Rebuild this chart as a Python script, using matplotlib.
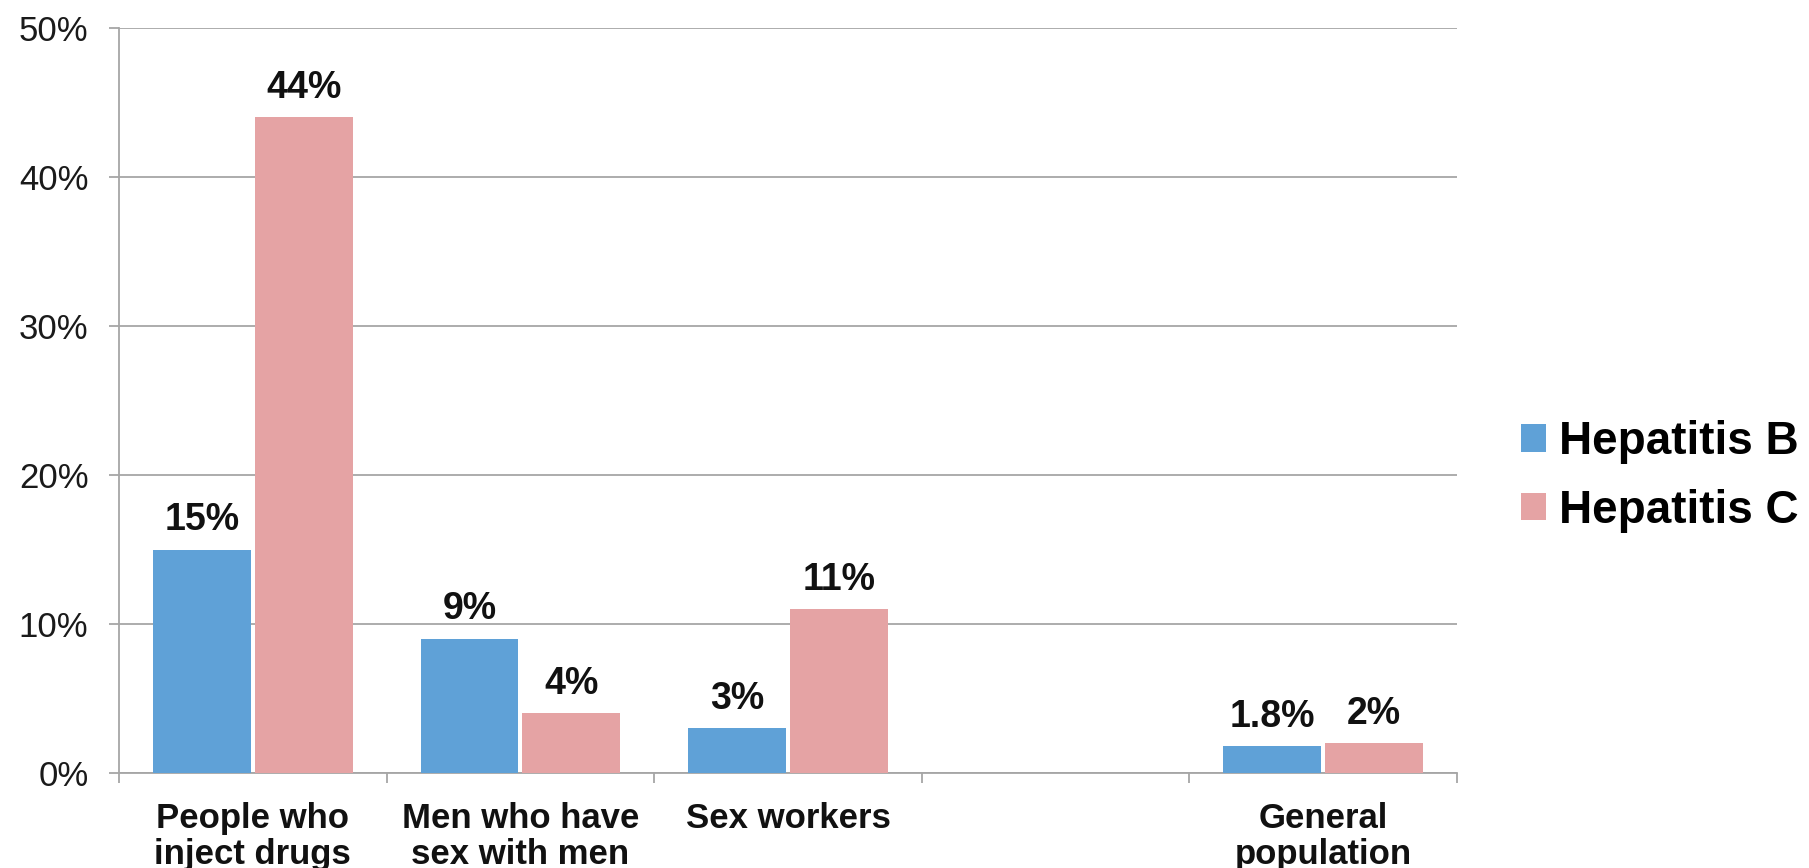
import numpy as np
import matplotlib
matplotlib.use("Agg")
import matplotlib.pyplot as plt

# Data
categories = ["People who\ninject drugs", "Men who have\nsex with men", "Sex workers", "", "General\npopulation"]
hep_b = [15, 9, 3, None, 1.8]
hep_c = [44, 4, 11, None, 2]
series_names = ["Hepatitis B", "Hepatitis C"]
colors = ["#5fa1d7", "#e5a3a4"]

plt.rcParams['font.family'] = ['Liberation Sans', 'DejaVu Sans']

fig = plt.figure(figsize=(18.09, 8.68), dpi=100)
ax = fig.add_axes([0.0658, 0.1094, 0.7396, 0.8583])

x = np.arange(len(categories))
width = 0.365
offset = 0.19

def fmt(v):
    return "{:g}%".format(v)

handles = []
for vals, off, col, name in zip([hep_b, hep_c], [-offset, offset], colors, series_names):
    xs = [xi + off for xi, v in zip(x, vals) if v is not None]
    ys = [v for v in vals if v is not None]
    bars = ax.bar(xs, ys, width=width, color=col, label=name, zorder=3)
    handles.append(bars)
    for xi, yi in zip(xs, ys):
        ax.annotate(fmt(yi), (xi, yi), xytext=(0, 14), textcoords="offset points",
                    ha="center", va="baseline", fontsize=27, fontweight="bold", color="#111111")

ax.set_xlim(-0.5, len(categories) - 0.5)
ax.set_ylim(0, 50)
ax.set_yticks(np.arange(0, 51, 10))
ax.set_yticklabels(["{}%".format(t) for t in range(0, 51, 10)], fontsize=25, color="#1a1a1a")
ax.yaxis.grid(True, color="#a6a6a6", linewidth=1.3, zorder=0)

# Category ticks at slot boundaries, labels at slot centres
ax.set_xticks(np.arange(-0.5, len(categories), 1.0))
ax.set_xticklabels([])
ax.set_xticks(x, minor=True)
ax.set_xticklabels(categories, minor=True, fontsize=25, fontweight="bold", color="#111111",
                   linespacing=1.12, va="top")
ax.tick_params(axis="x", which="minor", length=0, pad=21)
ax.tick_params(axis="x", which="major", length=7, color="#a6a6a6", width=1.3)
ax.tick_params(axis="y", length=7, color="#a6a6a6", width=1.3, pad=15)

for s in ["top", "right"]:
    ax.spines[s].set_visible(False)
for s in ["left", "bottom"]:
    ax.spines[s].set_color("#a6a6a6")
    ax.spines[s].set_linewidth(1.3)

leg = fig.legend(handles, series_names, loc="center left", bbox_to_anchor=(0.818, 0.451),
                 frameon=False, handlelength=0.55, handleheight=0.55,
                 handletextpad=0.28, labelspacing=0.53, prop={"weight": "bold", "size": 33})

fig.savefig("out.png", dpi=100, facecolor="white")
